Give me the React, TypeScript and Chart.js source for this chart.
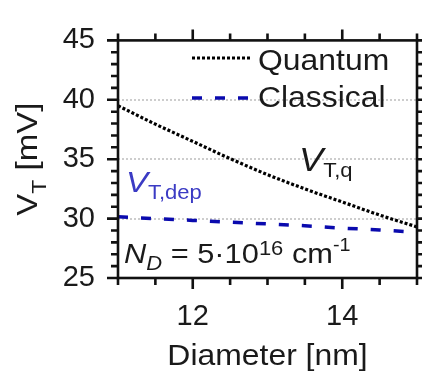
import React, { useEffect, useRef } from 'react';
import { Chart, registerables } from 'chart.js';

Chart.register(...registerables);

// ---- data ----
const diameterNm = [11, 11.5, 12, 12.5, 13, 13.5, 14, 14.5, 15];
const quantumMv = [39.5, 37.95, 36.5, 35.05, 33.7, 32.5, 31.4, 30.3, 29.3];
const classicalMv = [30.15, 30.0, 29.85, 29.7, 29.55, 29.4, 29.2, 29.05, 28.85];
const seriesNames = ['Quantum', 'Classical'];
const xTickValues = [12, 14];
const yTickValues = [25, 30, 35, 40, 45];
const gridValues = [30, 35, 40];
const xRange = [11, 15];
const yRange = [25, 45];

const FONT = '"Liberation Sans", Arial, Helvetica, sans-serif';
const TEXT = '#1a1a1a';
const SX = 1.1;

type Seg = { t: string; size: number; italic?: boolean; dy?: number; color?: string };

function drawRich(ctx: CanvasRenderingContext2D, segs: Seg[], x: number, y: number, align: 'left' | 'center', color = TEXT) {
  ctx.save();
  const widths: number[] = [];
  let total = 0;
  segs.forEach((s) => {
    ctx.font = `${s.italic ? 'italic ' : ''}${s.size}px ${FONT}`;
    const w = ctx.measureText(s.t).width;
    widths.push(w);
    total += w;
  });
  ctx.translate(x, y);
  ctx.scale(SX, 1);
  ctx.textBaseline = 'alphabetic';
  ctx.textAlign = 'left';
  let cx = align === 'center' ? -total / 2 : 0;
  segs.forEach((s, i) => {
    ctx.font = `${s.italic ? 'italic ' : ''}${s.size}px ${FONT}`;
    ctx.fillStyle = s.color || color;
    ctx.fillText(s.t, cx, s.dy || 0);
    cx += widths[i];
  });
  ctx.restore();
}

const decor = {
  id: 'decor',
  beforeDatasetsDraw(chart: any) {
    const { ctx, chartArea: a } = chart;
    const y = chart.scales.y;
    ctx.save();
    ctx.strokeStyle = '#cdcdcd';
    ctx.lineWidth = 2;
    ctx.setLineDash([2, 2]);
    gridValues.forEach((v) => {
      const py = Math.round(y.getPixelForValue(v));
      ctx.beginPath();
      ctx.moveTo(a.left, py);
      ctx.lineTo(a.right, py);
      ctx.stroke();
    });
    ctx.restore();
  },
  afterDatasetsDraw(chart: any) {
    const { ctx, chartArea: a } = chart;
    const xs = chart.scales.x;
    const ys = chart.scales.y;
    ctx.save();
    ctx.strokeStyle = '#111';
    ctx.lineWidth = 2.6;
    ctx.setLineDash([]);
    ctx.strokeRect(a.left, a.top, a.right - a.left, a.bottom - a.top);
    const MAJ = 11;
    const MIN = 7;
    ctx.beginPath();
    for (let v = xRange[0]; v <= xRange[1] + 1e-9; v += 0.5) {
      const px = xs.getPixelForValue(v);
      const len = xTickValues.includes(v) ? MAJ : MIN;
      ctx.moveTo(px, a.bottom);
      ctx.lineTo(px, a.bottom + len);
      ctx.moveTo(px, a.top);
      ctx.lineTo(px, a.top - len);
    }
    for (let v = yRange[0]; v <= yRange[1] + 1e-9; v += 1) {
      const py = ys.getPixelForValue(v);
      const len = v % 5 === 0 ? MAJ : MIN;
      ctx.moveTo(a.left, py);
      ctx.lineTo(a.left - len, py);
      ctx.moveTo(a.right, py);
      ctx.lineTo(a.right + len, py);
    }
    ctx.stroke();
    ctx.restore();
  },
  afterDraw(chart: any) {
    const { ctx, chartArea: a } = chart;
    // legend
    const rows = [58, 98];
    chart.data.datasets.forEach((ds: any, i: number) => {
      ctx.save();
      ctx.strokeStyle = ds.borderColor;
      ctx.lineWidth = ds.borderWidth;
      ctx.setLineDash(ds.borderDash || []);
      ctx.beginPath();
      ctx.moveTo(192, rows[i]);
      ctx.lineTo(252, rows[i]);
      ctx.stroke();
      ctx.restore();
      drawRich(ctx, [{ t: ds.label, size: 29 }], 258, rows[i] + (i === 0 ? 12 : 9), 'left');
    });
    // annotations
    drawRich(ctx, [
      { t: 'V', size: 33, italic: true },
      { t: 'T,q', size: 20, dy: 6 },
    ], 299, 171, 'left');
    drawRich(ctx, [
      { t: 'V', size: 30, italic: true },
      { t: 'T,dep', size: 20, dy: 7 },
    ], 126, 192, 'left', '#3b3bc4');
    drawRich(ctx, [
      { t: 'N', size: 28, italic: true },
      { t: 'D', size: 20, italic: true, dy: 7 },
      { t: ' = 5·10', size: 28 },
      { t: '16', size: 20, dy: -8 },
      { t: ' cm', size: 28 },
      { t: '-1', size: 18, dy: -12 },
    ], 124, 263, 'left');
    // axis titles
    drawRich(ctx, [{ t: 'Diameter [nm]', size: 29 }], (a.left + a.right) / 2, 365, 'center');
    ctx.save();
    ctx.translate(37, (a.top + a.bottom) / 2);
    ctx.rotate(-Math.PI / 2);
    drawRich(ctx, [
      { t: 'V', size: 30 },
      { t: 'T', size: 21, dy: 9 },
      { t: ' [mV]', size: 30 },
    ], 0, 0, 'center');
    ctx.restore();
  },
};

export default function App() {
  const ref = useRef<HTMLCanvasElement | null>(null);
  useEffect(() => {
    document.body.style.margin = '0';
    if (!ref.current) return;
    const chart = new Chart(ref.current, {
      type: 'line',
      data: {
        datasets: [
          {
            label: seriesNames[0],
            data: diameterNm.map((x, i) => ({ x, y: quantumMv[i] })),
            borderColor: '#000000',
            borderWidth: 3.2,
            borderDash: [3, 2],
            pointRadius: 0,
            cubicInterpolationMode: 'monotone',
            fill: false,
          },
          {
            label: seriesNames[1],
            data: diameterNm.map((x, i) => ({ x, y: classicalMv[i] })),
            borderColor: '#0a0aae',
            borderWidth: 3.5,
            borderDash: [10, 13],
            pointRadius: 0,
            cubicInterpolationMode: 'monotone',
            fill: false,
          },
        ],
      },
      options: {
        animation: false,
        responsive: false,
        maintainAspectRatio: false,
        layout: { padding: { top: 14, right: 5, left: 0, bottom: 0 } },
        plugins: { legend: { display: false }, tooltip: { enabled: false } },
        scales: {
          x: {
            type: 'linear',
            min: xRange[0],
            max: xRange[1],
            afterBuildTicks: (s: any) => { s.ticks = xTickValues.map((v) => ({ value: v })); },
            afterFit: (s: any) => { s.height = 98; },
            grid: { display: false, drawTicks: false },
            border: { display: false },
            ticks: { font: { size: 29, family: FONT }, color: TEXT, padding: 22, maxRotation: 0, autoSkip: false },
          },
          y: {
            type: 'linear',
            min: yRange[0],
            max: yRange[1],
            afterBuildTicks: (s: any) => { s.ticks = yTickValues.map((v) => ({ value: v })); },
            afterFit: (s: any) => { s.width = 118; },
            grid: { display: false, drawTicks: false },
            border: { display: false },
            ticks: { font: { size: 29, family: FONT }, color: TEXT, padding: 23, autoSkip: false },
          },
        },
      },
      plugins: [decor],
    } as any);
    return () => chart.destroy();
  }, []);
  return <canvas ref={ref} width={422} height={376} style={{ display: 'block' }} />;
}
